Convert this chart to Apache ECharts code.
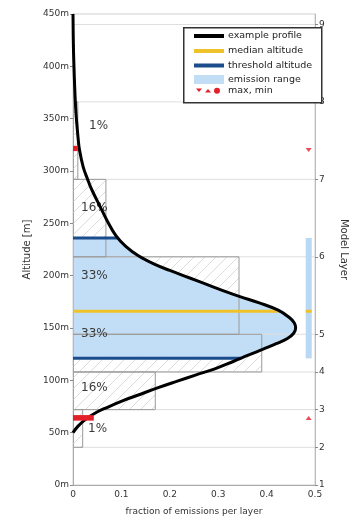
<!DOCTYPE html>
<html><head><meta charset="utf-8">
<script src="https://cdn.jsdelivr.net/npm/echarts@6/dist/echarts.min.js"></script>
<style>html,body{margin:0;padding:0;background:#fff}#c{width:357px;height:521px}</style>
</head><body><div id="c"></div>
<script>
// ---------- data ----------
const layerNumbers = [1, 2, 3, 4, 5, 6, 7, 8, 9];
const layerAltitudes = [0, 36, 72, 108, 144, 218, 292, 366, 440];
// fraction of emissions in layer i (between layerAltitudes[i] and layerAltitudes[i+1])
const layerFractions = [0, 0.02, 0.17, 0.39, 0.343, 0.068, 0.01, 0];
const percentLabels = ['1%', '16%', '33%', '33%', '16%', '1%'];
const percentLabelAltitudes = [343, 265, 200, 144, 93, 54];
const profileAltitudes = [450, 420, 400, 380, 360, 350, 332, 320, 304, 291, 285, 278, 266, 253, 238, 228, 219, 211, 205, 198, 191, 184, 180, 174, 167, 160, 155, 150, 145, 140, 135, 130, 124, 118, 111, 105, 99, 93, 86, 81, 74, 69, 62, 56, 50];
const profileFractions = [0, 0.0008, 0.002, 0.0035, 0.0055, 0.007, 0.0104, 0.0135, 0.021, 0.031, 0.036, 0.043, 0.056, 0.07, 0.089, 0.109, 0.135, 0.168, 0.2, 0.24, 0.28, 0.32, 0.345, 0.385, 0.424, 0.447, 0.457, 0.46, 0.456, 0.443, 0.42, 0.394, 0.362, 0.331, 0.293, 0.253, 0.214, 0.176, 0.135, 0.106, 0.07, 0.047, 0.024, 0.01, 0];
const thresholdAltitudes = [121, 236];
const medianAltitude = 166;
const maxAltitude = 320;
const minAltitude = 64;
const redBandLow = [319, 61.5];
const redBandHigh = [324, 66.8];
const redBandFractions = [0.01, 0.043];
const markerColumnX = 0.487;
const altitudeTicks = [0, 50, 100, 150, 200, 250, 300, 350, 400, 450];
const fractionTicks = [0, 0.1, 0.2, 0.3, 0.4, 0.5];
const legendNames = ['example profile', 'median altitude', 'threshold altitude', 'emission range', 'max, min'];

// ---------- helpers / styles ----------
function fracAt(alt) {
  for (let i = 0; i < profileAltitudes.length - 1; i++) {
    const a0 = profileAltitudes[i], a1 = profileAltitudes[i + 1];
    if (alt <= a0 && alt >= a1) {
      const t = (a0 - alt) / (a0 - a1);
      return profileFractions[i] + t * (profileFractions[i + 1] - profileFractions[i]);
    }
  }
  return 0;
}
const FONT = 'DejaVu Sans';
const C_BLUE_FILL = '#c2ddf6';
const C_DARK_BLUE = '#1b4d8c';
const C_YELLOW = '#f0c22a';
const C_RED = '#e3202a';
const labelIndentPx = [16, 8, 8, 8, 8, 15];

// hatch pattern
const pc = document.createElement('canvas');
pc.width = 11; pc.height = 11;
const g = pc.getContext('2d');
g.strokeStyle = '#dcdcdc'; g.lineWidth = 1;
g.beginPath();
g.moveTo(0, 11); g.lineTo(11, 0);
g.moveTo(-6, 6); g.lineTo(6, -6);
g.moveTo(5, 17); g.lineTo(17, 5);
g.stroke();
const hatch = { image: pc, repeat: 'repeat' };

const boxData = [];
for (let i = 0; i < layerFractions.length; i++) {
  if (layerFractions[i] > 0) boxData.push([layerAltitudes[i], layerAltitudes[i + 1], layerFractions[i]]);
}

// emission range polygon (data space)
const emissionPoly = [[0, thresholdAltitudes[1]], [fracAt(thresholdAltitudes[1]), thresholdAltitudes[1]]];
profileAltitudes.forEach((a, i) => {
  if (a < thresholdAltitudes[1] && a > thresholdAltitudes[0]) emissionPoly.push([profileFractions[i], a]);
});
emissionPoly.push([fracAt(thresholdAltitudes[0]), thresholdAltitudes[0]], [0, thresholdAltitudes[0]]);

function boxRender(fillMode) {
  return function (params, api) {
    const lo = api.value(0), hi = api.value(1), v = api.value(2);
    const p0 = api.coord([0, hi]);
    const p1 = api.coord([v, lo]);
    return {
      type: 'rect',
      shape: { x: p0[0], y: p0[1], width: p1[0] - p0[0], height: p1[1] - p0[1] },
      style: fillMode ? { fill: hatch, stroke: null } : { fill: null, stroke: '#9a9a9a', lineWidth: 1 }
    };
  };
}

const chart = echarts.init(document.getElementById('c'), null, { renderer: 'canvas' });

const lx = 183, ly = 27;
const legendGraphic = [
  { type: 'rect', left: lx, top: ly, shape: { width: 138, height: 75 }, style: { fill: '#fff', stroke: '#333', lineWidth: 1.5 }, z: 100 },
  { type: 'rect', shape: { x: 194, y: 34, width: 30, height: 4 }, style: { fill: '#000' }, z: 101 },
  { type: 'rect', shape: { x: 194, y: 49, width: 30, height: 4 }, style: { fill: C_YELLOW }, z: 101 },
  { type: 'rect', shape: { x: 194, y: 63.5, width: 30, height: 4 }, style: { fill: C_DARK_BLUE }, z: 101 },
  { type: 'rect', shape: { x: 194, y: 75, width: 30, height: 9 }, style: { fill: C_BLUE_FILL }, z: 101 },
  { type: 'polygon', shape: { points: [[196, 88.5], [202, 88.5], [199, 92]] }, style: { fill: C_RED }, z: 101 },
  { type: 'polygon', shape: { points: [[205, 92.5], [211, 92.5], [208, 89]] }, style: { fill: C_RED }, z: 101 },
  { type: 'circle', shape: { cx: 217, cy: 90.7, r: 3 }, style: { fill: C_RED }, z: 101 }
];
const legendRowsY = [36, 51, 65.5, 79.5, 90.7];
legendNames.forEach((n, i) => {
  legendGraphic.push({ type: 'text', x: 228, y: legendRowsY[i], style: { text: n, fill: '#222', font: '9.5px "' + FONT + '"', textVerticalAlign: 'middle' }, z: 101 });
});

const option = {
  animation: false,
  backgroundColor: '#fff',
  textStyle: { fontFamily: FONT },
  grid: { left: 73, right: 30, top: 14, bottom: 28, show: true, borderColor: '#d0d0d0', borderWidth: 1 },
  xAxis: {
    type: 'value', min: 0, max: 0.5, interval: 0.1,
    name: 'fraction of emissions per layer', nameLocation: 'middle', nameGap: 22,
    nameTextStyle: { fontSize: 9, color: '#333', fontFamily: FONT },
    axisLine: { show: true, lineStyle: { color: '#aaa' } },
    axisTick: { show: false },
    splitLine: { show: false },
    axisLabel: { fontSize: 9, color: '#333', margin: 5, fontFamily: FONT, formatter: v => String(+v.toFixed(1)) }
  },
  yAxis: [
    {
      type: 'value', min: 0, max: 450, interval: 50,
      name: 'Altitude [m]', nameLocation: 'middle', nameGap: 40,
      nameTextStyle: { fontSize: 10, color: '#333', fontFamily: FONT },
      axisLine: { show: true, lineStyle: { color: '#aaa' } },
      axisTick: { show: true, length: 3, lineStyle: { color: '#888' } },
      splitLine: { show: false },
      axisLabel: { fontSize: 9, color: '#333', margin: 4, fontFamily: FONT, formatter: '{value}m' }
    },
    {
      type: 'value', min: 0, max: 450, position: 'right',
      name: 'Model Layer', nameLocation: 'middle', nameGap: 24, nameRotate: -90,
      nameTextStyle: { fontSize: 10, color: '#333', fontFamily: FONT },
      axisLine: { show: true, lineStyle: { color: '#bbb' } },
      axisTick: { show: true, length: 3, lineStyle: { color: '#888' }, customValues: layerAltitudes },
      splitLine: { show: false },
      axisLabel: { fontSize: 9, color: '#333', margin: 4, fontFamily: FONT, customValues: layerAltitudes,
        formatter: v => { const k = layerAltitudes.indexOf(v); return k >= 0 ? String(layerNumbers[k]) : ''; } }
    }
  ],
  graphic: legendGraphic,
  series: [
    { // hatching
      type: 'custom', z: 1, silent: true, clip: true,
      data: boxData, encode: { x: 2, y: [0, 1] },
      renderItem: boxRender(true)
    },
    { // emission range fill
      type: 'custom', z: 2, silent: true, clip: true,
      data: [[0, 0]],
      renderItem: function (params, api) {
        return { type: 'polygon', shape: { points: emissionPoly.map(p => api.coord(p)) }, style: { fill: C_BLUE_FILL } };
      }
    },
    { // gridlines at layer boundaries
      type: 'custom', z: 3, silent: true,
      data: layerAltitudes.slice(1).map(a => [a]),
      encode: { y: 0 },
      renderItem: function (params, api) {
        const a = api.value(0);
        const p0 = api.coord([0, a]), p1 = api.coord([0.5, a]);
        return { type: 'line', shape: { x1: p0[0], y1: p0[1], x2: p1[0], y2: p1[1] }, style: { stroke: '#dedede', lineWidth: 1 } };
      }
    },
    { // histogram outlines
      type: 'custom', z: 4, silent: true, clip: true,
      data: boxData, encode: { x: 2, y: [0, 1] },
      renderItem: boxRender(false)
    },
    { // percent labels
      type: 'custom', z: 4, silent: true,
      data: percentLabelAltitudes.map((a, i) => [a, i]),
      encode: { y: 0 },
      renderItem: function (params, api) {
        const a = api.value(0), i = api.value(1);
        const p = api.coord([0, a]);
        return { type: 'text', x: p[0] + labelIndentPx[i], y: p[1], style: { text: percentLabels[i], fill: '#3a3a3a', font: '12px "' + FONT + '"', textVerticalAlign: 'middle' } };
      }
    },
    { // emission range bar on right
      type: 'custom', z: 4, silent: true,
      data: [[thresholdAltitudes[0], thresholdAltitudes[1], markerColumnX]],
      encode: { x: 2, y: [0, 1] },
      renderItem: function (params, api) {
        const p0 = api.coord([api.value(2), api.value(1)]);
        const p1 = api.coord([api.value(2), api.value(0)]);
        const pm = api.coord([api.value(2), medianAltitude]);
        return { type: 'group', children: [
          { type: 'rect', shape: { x: p0[0] - 3, y: p0[1], width: 6, height: p1[1] - p0[1] }, style: { fill: '#b9d8f4' } },
          { type: 'rect', shape: { x: pm[0] - 3, y: pm[1] - 1.5, width: 6, height: 3 }, style: { fill: C_YELLOW } }
        ] };
      }
    },
    { // red max/min bands
      type: 'custom', z: 7, silent: true,
      data: redBandLow.map((l, i) => [l, redBandHigh[i], redBandFractions[i]]),
      encode: { x: 2, y: [0, 1] },
      renderItem: function (params, api) {
        const p0 = api.coord([0, api.value(1)]);
        const p1 = api.coord([api.value(2), api.value(0)]);
        return { type: 'rect', shape: { x: p0[0], y: p0[1], width: p1[0] - p0[0], height: p1[1] - p0[1] }, style: { fill: C_RED } };
      }
    },
    { // threshold lines
      type: 'line', z: 5, symbol: 'none', silent: true,
      lineStyle: { color: C_DARK_BLUE, width: 3 },
      data: [[0, thresholdAltitudes[0]], [fracAt(thresholdAltitudes[0]), thresholdAltitudes[0]], null,
             [0, thresholdAltitudes[1]], [fracAt(thresholdAltitudes[1]), thresholdAltitudes[1]]],
      connectNulls: false
    },
    { // median line
      type: 'line', z: 5, symbol: 'none', silent: true,
      lineStyle: { color: C_YELLOW, width: 3 },
      data: [[0, medianAltitude], [fracAt(medianAltitude), medianAltitude]]
    },
    { // profile
      type: 'line', z: 6, symbol: 'none', silent: true, smooth: 0.4,
      lineStyle: { color: '#000', width: 3 },
      data: profileFractions.map((f, i) => [f, profileAltitudes[i]])
    },
    { // max marker
      type: 'scatter', z: 7, silent: true, symbol: 'triangle', symbolRotate: 180, symbolSize: [6, 4],
      itemStyle: { color: C_RED },
      data: [[markerColumnX, maxAltitude]]
    },
    { // min marker
      type: 'scatter', z: 7, silent: true, symbol: 'triangle', symbolSize: [6, 4],
      itemStyle: { color: C_RED },
      data: [[markerColumnX, minAltitude]]
    }
  ]
};
chart.setOption(option);
</script>
</body></html>
